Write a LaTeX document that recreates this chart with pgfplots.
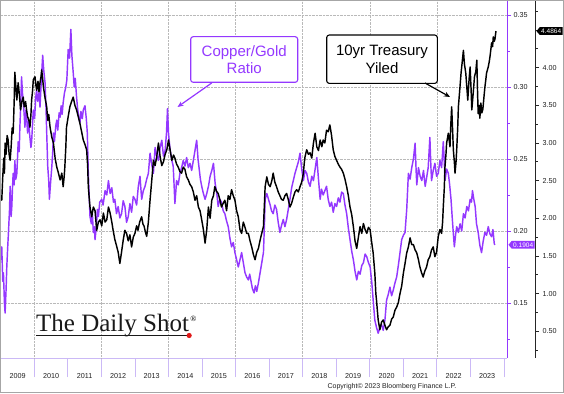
\documentclass[border=0pt]{standalone}
\usepackage{fontspec}
\setmainfont{Liberation Sans}
\newfontfamily\logofont{Liberation Serif}
\usepackage{pgfplots}
\pgfplotsset{compat=1.18}
\usetikzlibrary{shapes.symbols,arrows.meta}
\definecolor{purp}{HTML}{9438FF}
\definecolor{lav}{HTML}{CBB9F6}
\definecolor{logored}{HTML}{E01818}
\definecolor{tickgray}{HTML}{222222}
\begin{document}
\begin{tikzpicture}[x=1pt,y=1pt]
\useasboundingbox (0,0) rectangle (564,393);
\fill[white] (0,0) rectangle (564,393);
% x axis ticks and year labels
\begin{axis}[
 at={(0.75pt,35pt)}, anchor=south west,
 scale only axis, width=506.25pt, height=357pt,
 xmin=2009, xmax=2024.089, ymin=0, ymax=1,
 axis x line*=bottom, axis y line=none,
 x axis line style={lav, line width=0.9pt, -},
 xtick={2009.5,2010.5,2011.5,2012.5,2013.5,2014.5,2015.5,2016.5,2017.5,2018.5,2019.5,2020.5,2021.5,2022.5,2023.5},
 xticklabels={2009,2010,2011,2012,2013,2014,2015,2016,2017,2018,2019,2020,2021,2022,2023},
 major x tick style={draw=none},
 minor xtick={2010,2011,...,2024},
 minor tick length=19pt, tick align=outside,
 minor x tick style={lav, line width=0.9pt},
 xticklabel style={font=\fontsize{7.2}{8}\selectfont, text=tickgray, yshift=-8pt},
 /pgf/number format/assume math mode=true,
]
\end{axis}
% copper/gold ratio
\begin{axis}[
 at={(0.75pt,35pt)}, anchor=south west,
 scale only axis, width=506.25pt, height=357pt,
 xmin=2009, xmax=2024.089, ymin=0.1118, ymax=0.3597,
 clip mode=individual,
 axis x line*=bottom, axis y line*=right,
 x axis line style={draw=none},
 y axis line style={purp, line width=0.9pt, -},
 xtick={2010,2012,...,2022}, xticklabels={},
 major x tick style={draw=none},
 xmajorgrids, ymajorgrids,
 major grid style={densely dotted, gray!55, line width=0.6pt},
 ytick={0.15,0.20,0.25,0.30,0.35},
 minor ytick={0.125,0.175,0.225,0.275,0.325},
 tick align=outside, major tick length=4pt, minor tick length=2.5pt,
 y tick style={purp, line width=0.8pt},
 yticklabel style={font=\fontsize{7.2}{8}\selectfont, text=tickgray, xshift=-1pt, /pgf/number format/.cd, fixed, fixed zerofill, precision=2, assume math mode=true},
]
\addplot[purp, line width=1.45pt, line join=round] coordinates {
(2009.01,0.180)(2009.03,0.189)(2009.06,0.165)(2009.08,0.171)(2009.11,0.150)(2009.13,0.143)(2009.16,0.160)(2009.18,0.175)(2009.21,0.190)(2009.23,0.199)(2009.26,0.214)(2009.28,0.231)(2009.31,0.210)(2009.33,0.217)(2009.35,0.230)(2009.37,0.240)(2009.40,0.232)(2009.42,0.249)(2009.45,0.236)(2009.48,0.240)(2009.52,0.262)(2009.55,0.255)(2009.57,0.272)(2009.60,0.290)(2009.62,0.307)(2009.65,0.295)(2009.67,0.291)(2009.70,0.280)(2009.72,0.272)(2009.75,0.284)(2009.77,0.280)(2009.80,0.268)(2009.83,0.276)(2009.87,0.265)(2009.90,0.258)(2009.92,0.262)(2009.95,0.275)(2009.97,0.284)(2010.01,0.278)(2010.04,0.292)(2010.07,0.298)(2010.10,0.290)(2010.14,0.296)(2010.17,0.286)(2010.21,0.305)(2010.25,0.322)(2010.28,0.312)(2010.32,0.303)(2010.35,0.285)(2010.37,0.268)(2010.40,0.245)(2010.43,0.235)(2010.45,0.222)(2010.48,0.232)(2010.52,0.244)(2010.55,0.255)(2010.57,0.268)(2010.60,0.262)(2010.64,0.273)(2010.67,0.277)(2010.70,0.270)(2010.74,0.282)(2010.77,0.279)(2010.80,0.287)(2010.83,0.281)(2010.86,0.289)(2010.90,0.296)(2010.94,0.300)(2010.97,0.305)(2011.01,0.326)(2011.05,0.320)(2011.09,0.340)(2011.12,0.322)(2011.16,0.310)(2011.19,0.300)(2011.22,0.306)(2011.26,0.293)(2011.29,0.285)(2011.32,0.280)(2011.36,0.275)(2011.39,0.283)(2011.43,0.278)(2011.46,0.284)(2011.51,0.287)(2011.55,0.278)(2011.58,0.268)(2011.61,0.240)(2011.64,0.222)(2011.66,0.210)(2011.70,0.205)(2011.73,0.212)(2011.76,0.199)(2011.79,0.203)(2011.81,0.194)(2011.85,0.203)(2011.88,0.215)(2011.91,0.210)(2011.95,0.220)(2012.01,0.222)(2012.05,0.218)(2012.11,0.228)(2012.16,0.225)(2012.21,0.235)(2012.26,0.226)(2012.31,0.230)(2012.36,0.220)(2012.40,0.222)(2012.45,0.212)(2012.50,0.217)(2012.55,0.209)(2012.60,0.212)(2012.65,0.221)(2012.70,0.217)(2012.75,0.206)(2012.80,0.210)(2012.85,0.219)(2012.90,0.213)(2012.95,0.224)(2013.00,0.222)(2013.05,0.218)(2013.10,0.231)(2013.15,0.238)(2013.20,0.222)(2013.25,0.228)(2013.30,0.231)(2013.35,0.236)(2013.40,0.240)(2013.45,0.254)(2013.50,0.246)(2013.55,0.240)(2013.60,0.258)(2013.65,0.252)(2013.70,0.249)(2013.75,0.258)(2013.80,0.263)(2013.85,0.252)(2013.90,0.256)(2013.94,0.268)(2013.97,0.285)(2014.00,0.268)(2014.04,0.258)(2014.09,0.250)(2014.14,0.245)(2014.17,0.230)(2014.19,0.219)(2014.22,0.228)(2014.24,0.235)(2014.29,0.232)(2014.34,0.240)(2014.39,0.244)(2014.44,0.249)(2014.49,0.245)(2014.54,0.251)(2014.59,0.244)(2014.64,0.247)(2014.69,0.242)(2014.74,0.249)(2014.79,0.256)(2014.84,0.263)(2014.88,0.250)(2014.91,0.244)(2014.95,0.236)(2014.99,0.231)(2015.04,0.226)(2015.09,0.222)(2015.14,0.226)(2015.19,0.231)(2015.24,0.238)(2015.29,0.242)(2015.34,0.247)(2015.39,0.233)(2015.44,0.226)(2015.48,0.217)(2015.53,0.222)(2015.58,0.220)(2015.63,0.214)(2015.68,0.212)(2015.73,0.207)(2015.78,0.203)(2015.83,0.195)(2015.88,0.189)(2015.93,0.192)(2015.98,0.185)(2016.03,0.180)(2016.08,0.175)(2016.13,0.180)(2016.18,0.185)(2016.23,0.178)(2016.28,0.171)(2016.33,0.168)(2016.38,0.166)(2016.42,0.170)(2016.46,0.165)(2016.50,0.160)(2016.55,0.157)(2016.59,0.162)(2016.63,0.158)(2016.68,0.164)(2016.73,0.171)(2016.78,0.178)(2016.83,0.185)(2016.86,0.205)(2016.88,0.222)(2016.93,0.226)(2016.98,0.222)(2017.03,0.218)(2017.07,0.214)(2017.12,0.212)(2017.17,0.218)(2017.22,0.215)(2017.27,0.206)(2017.32,0.199)(2017.37,0.204)(2017.42,0.208)(2017.47,0.203)(2017.52,0.208)(2017.57,0.215)(2017.62,0.222)(2017.67,0.230)(2017.72,0.235)(2017.77,0.240)(2017.82,0.244)(2017.87,0.248)(2017.92,0.254)(2017.97,0.243)(2018.02,0.235)(2018.07,0.242)(2018.12,0.240)(2018.17,0.234)(2018.22,0.231)(2018.27,0.238)(2018.32,0.235)(2018.37,0.243)(2018.42,0.251)(2018.47,0.236)(2018.52,0.222)(2018.56,0.229)(2018.61,0.225)(2018.66,0.228)(2018.71,0.231)(2018.76,0.222)(2018.81,0.217)(2018.86,0.220)(2018.91,0.213)(2018.96,0.219)(2019.01,0.217)(2019.06,0.223)(2019.11,0.220)(2019.16,0.227)(2019.21,0.226)(2019.26,0.218)(2019.31,0.212)(2019.36,0.202)(2019.41,0.194)(2019.46,0.186)(2019.51,0.180)(2019.56,0.172)(2019.61,0.166)(2019.66,0.172)(2019.71,0.170)(2019.76,0.176)(2019.81,0.178)(2019.86,0.184)(2019.91,0.182)(2019.96,0.178)(2020.01,0.175)(2020.06,0.164)(2020.10,0.152)(2020.15,0.138)(2020.20,0.133)(2020.25,0.129)(2020.30,0.133)(2020.35,0.135)(2020.40,0.131)(2020.45,0.138)(2020.50,0.152)(2020.55,0.156)(2020.60,0.161)(2020.65,0.155)(2020.70,0.159)(2020.75,0.164)(2020.80,0.168)(2020.85,0.176)(2020.90,0.185)(2020.95,0.194)(2021.00,0.197)(2021.05,0.199)(2021.10,0.215)(2021.15,0.240)(2021.20,0.236)(2021.25,0.244)(2021.30,0.250)(2021.35,0.261)(2021.38,0.242)(2021.40,0.232)(2021.45,0.244)(2021.50,0.238)(2021.55,0.235)(2021.60,0.242)(2021.65,0.231)(2021.70,0.238)(2021.74,0.244)(2021.79,0.265)(2021.82,0.245)(2021.84,0.235)(2021.89,0.242)(2021.94,0.247)(2021.99,0.238)(2022.04,0.240)(2022.09,0.249)(2022.14,0.244)(2022.19,0.262)(2022.22,0.248)(2022.24,0.235)(2022.29,0.243)(2022.34,0.240)(2022.38,0.232)(2022.42,0.222)(2022.46,0.208)(2022.49,0.198)(2022.52,0.189)(2022.56,0.198)(2022.59,0.203)(2022.64,0.199)(2022.69,0.205)(2022.74,0.200)(2022.79,0.212)(2022.84,0.209)(2022.89,0.217)(2022.94,0.214)(2022.99,0.222)(2023.03,0.220)(2023.06,0.228)(2023.10,0.222)(2023.14,0.217)(2023.18,0.205)(2023.23,0.199)(2023.28,0.190)(2023.33,0.185)(2023.38,0.193)(2023.43,0.199)(2023.48,0.197)(2023.53,0.203)(2023.58,0.198)(2023.63,0.196)(2023.67,0.201)(2023.71,0.191)(2023.73,0.1904)
};
\node[signal, signal to=west, signal pointer angle=100, fill=purp, text=white, font=\fontsize{6.5}{7}\selectfont, inner xsep=1.5pt, inner ysep=1.6pt, anchor=west] at ([xshift=1.2pt]axis cs:2024.089,0.1904) {0.1904};
\end{axis}
% 10yr treasury yield
\begin{axis}[
 at={(0.75pt,35pt)}, anchor=south west,
 scale only axis, width=534.25pt, height=357pt,
 xmin=2009, xmax=2024.924, ymin=0.1447, ymax=4.886,
 clip mode=individual,
 axis x line=none, axis y line*=right,
 y axis line style={black!85, line width=0.9pt, -},
 ytick={0.5,1.0,1.5,2.0,2.5,3.0,3.5,4.0},
 minor ytick={0.25,0.75,1.25,1.75,2.25,2.75,3.25,3.75,4.25,4.5,4.75},
 tick align=outside, major tick length=4pt, minor tick length=2.5pt,
 y tick style={black!85, line width=0.8pt},
 yticklabel style={font=\fontsize{7.2}{8}\selectfont, text=tickgray, /pgf/number format/.cd, fixed, fixed zerofill, precision=2, assume math mode=true},
]
\addplot[black, line width=1.45pt, line join=round] coordinates {
(2009.01,2.30)(2009.03,2.24)(2009.06,2.55)(2009.09,2.80)(2009.11,2.60)(2009.13,3.00)(2009.16,2.85)(2009.19,3.10)(2009.22,3.04)(2009.25,2.85)(2009.28,2.77)(2009.31,2.95)(2009.34,3.20)(2009.37,3.13)(2009.40,3.55)(2009.42,3.94)(2009.45,3.75)(2009.48,3.57)(2009.50,3.70)(2009.52,3.80)(2009.56,3.62)(2009.59,3.44)(2009.63,3.55)(2009.67,3.61)(2009.70,3.48)(2009.74,3.55)(2009.77,3.44)(2009.80,3.35)(2009.84,3.30)(2009.87,3.21)(2009.90,3.38)(2009.92,3.57)(2009.95,3.70)(2009.97,3.84)(2010.02,3.88)(2010.05,3.76)(2010.07,3.70)(2010.11,3.82)(2010.14,3.68)(2010.17,3.80)(2010.20,3.88)(2010.22,3.97)(2010.25,3.85)(2010.27,3.75)(2010.32,3.60)(2010.37,3.48)(2010.40,3.30)(2010.43,3.38)(2010.47,3.21)(2010.52,3.08)(2010.57,3.00)(2010.62,2.80)(2010.67,2.68)(2010.72,2.60)(2010.77,2.51)(2010.82,2.60)(2010.86,2.42)(2010.89,2.55)(2010.91,2.68)(2010.94,2.95)(2010.96,3.21)(2011.01,3.35)(2011.06,3.48)(2011.11,3.55)(2011.16,3.61)(2011.21,3.50)(2011.26,3.44)(2011.31,3.35)(2011.36,3.26)(2011.41,3.15)(2011.46,3.04)(2011.51,2.98)(2011.56,2.91)(2011.59,2.70)(2011.61,2.42)(2011.64,2.25)(2011.66,2.15)(2011.71,2.02)(2011.76,2.15)(2011.81,2.10)(2011.86,1.84)(2011.91,1.95)(2011.96,1.98)(2012.01,1.90)(2012.06,2.07)(2012.11,1.95)(2012.16,1.98)(2012.21,2.15)(2012.26,2.07)(2012.31,1.95)(2012.35,1.84)(2012.40,1.72)(2012.46,1.62)(2012.50,1.55)(2012.55,1.40)(2012.60,1.55)(2012.65,1.71)(2012.70,1.84)(2012.75,1.80)(2012.80,1.70)(2012.85,1.78)(2012.90,1.62)(2012.95,1.75)(2013.00,1.80)(2013.05,1.90)(2013.09,1.84)(2013.14,1.95)(2013.20,2.02)(2013.24,1.92)(2013.27,1.90)(2013.31,1.82)(2013.35,1.76)(2013.40,1.95)(2013.45,2.24)(2013.50,2.50)(2013.55,2.77)(2013.60,2.70)(2013.65,2.82)(2013.70,3.00)(2013.75,2.82)(2013.80,2.70)(2013.85,2.75)(2013.90,2.85)(2013.95,2.91)(2014.00,3.04)(2014.05,2.90)(2014.10,2.77)(2014.15,2.84)(2014.19,2.80)(2014.24,2.72)(2014.29,2.68)(2014.34,2.62)(2014.39,2.60)(2014.44,2.68)(2014.49,2.65)(2014.54,2.55)(2014.59,2.51)(2014.64,2.45)(2014.69,2.42)(2014.74,2.35)(2014.79,2.24)(2014.84,2.30)(2014.89,2.15)(2014.94,2.10)(2014.99,1.98)(2015.04,1.85)(2015.09,1.67)(2015.14,1.85)(2015.19,2.15)(2015.24,2.00)(2015.29,2.24)(2015.34,2.30)(2015.38,2.42)(2015.43,2.36)(2015.48,2.33)(2015.53,2.25)(2015.58,2.15)(2015.63,2.20)(2015.68,2.24)(2015.73,2.10)(2015.78,2.30)(2015.83,2.25)(2015.88,2.38)(2015.93,2.30)(2015.98,2.24)(2016.03,2.10)(2016.08,2.02)(2016.13,1.85)(2016.18,1.80)(2016.23,1.95)(2016.28,1.88)(2016.33,1.80)(2016.38,1.80)(2016.43,1.70)(2016.48,1.62)(2016.53,1.52)(2016.58,1.45)(2016.63,1.55)(2016.68,1.60)(2016.73,1.71)(2016.78,1.80)(2016.83,1.89)(2016.86,2.20)(2016.88,2.42)(2016.93,2.55)(2016.98,2.45)(2017.03,2.42)(2017.08,2.50)(2017.12,2.60)(2017.17,2.48)(2017.22,2.42)(2017.27,2.35)(2017.32,2.30)(2017.37,2.25)(2017.42,2.24)(2017.47,2.30)(2017.52,2.33)(2017.57,2.25)(2017.62,2.15)(2017.67,2.20)(2017.72,2.28)(2017.77,2.35)(2017.82,2.38)(2017.87,2.35)(2017.92,2.42)(2017.97,2.48)(2018.02,2.60)(2018.05,2.75)(2018.07,2.82)(2018.12,2.91)(2018.17,2.85)(2018.22,2.87)(2018.27,2.80)(2018.32,3.00)(2018.37,3.13)(2018.42,2.95)(2018.47,2.90)(2018.52,3.04)(2018.57,2.95)(2018.61,3.04)(2018.66,3.00)(2018.71,3.17)(2018.76,3.15)(2018.81,3.24)(2018.86,3.10)(2018.91,2.91)(2018.96,2.82)(2019.01,2.77)(2019.06,2.72)(2019.11,2.68)(2019.16,2.65)(2019.21,2.60)(2019.26,2.52)(2019.31,2.42)(2019.36,2.30)(2019.41,2.15)(2019.46,2.05)(2019.51,1.89)(2019.56,1.70)(2019.61,1.60)(2019.66,1.75)(2019.71,1.89)(2019.76,1.80)(2019.81,1.93)(2019.86,1.85)(2019.91,1.80)(2019.96,1.88)(2020.01,1.85)(2020.05,1.70)(2020.10,1.54)(2020.15,1.27)(2020.18,1.00)(2020.20,0.91)(2020.23,0.75)(2020.25,0.65)(2020.30,0.52)(2020.35,0.62)(2020.40,0.65)(2020.45,0.58)(2020.50,0.52)(2020.55,0.56)(2020.60,0.58)(2020.65,0.66)(2020.70,0.69)(2020.75,0.78)(2020.80,0.82)(2020.85,0.88)(2020.90,1.00)(2020.95,1.10)(2021.00,1.27)(2021.05,1.40)(2021.10,1.54)(2021.15,1.62)(2021.20,1.74)(2021.25,1.65)(2021.30,1.65)(2021.35,1.58)(2021.40,1.54)(2021.45,1.45)(2021.49,1.36)(2021.54,1.28)(2021.59,1.22)(2021.64,1.30)(2021.69,1.35)(2021.74,1.45)(2021.79,1.49)(2021.84,1.58)(2021.89,1.62)(2021.94,1.49)(2021.99,1.55)(2022.04,1.76)(2022.09,1.85)(2022.14,1.80)(2022.17,1.95)(2022.19,2.15)(2022.22,2.40)(2022.24,2.68)(2022.27,2.85)(2022.29,3.00)(2022.34,3.13)(2022.39,2.95)(2022.41,3.20)(2022.44,3.48)(2022.47,3.15)(2022.49,2.91)(2022.52,2.75)(2022.54,2.60)(2022.57,2.75)(2022.59,2.91)(2022.62,3.20)(2022.64,3.48)(2022.68,3.70)(2022.72,3.93)(2022.76,4.10)(2022.79,4.23)(2022.82,4.05)(2022.86,3.93)(2022.89,3.75)(2022.92,3.57)(2022.96,3.85)(2022.99,4.01)(2023.02,3.70)(2023.04,3.44)(2023.08,3.65)(2023.12,3.88)(2023.16,3.95)(2023.19,4.10)(2023.21,3.70)(2023.23,3.39)(2023.26,3.50)(2023.28,3.33)(2023.31,3.53)(2023.34,3.40)(2023.37,3.45)(2023.40,3.60)(2023.43,3.74)(2023.46,3.85)(2023.48,3.93)(2023.53,4.01)(2023.56,4.08)(2023.58,4.14)(2023.61,4.25)(2023.63,4.33)(2023.66,4.28)(2023.68,4.41)(2023.71,4.35)(2023.73,4.38)(2023.76,4.4864)
};
\node[signal, signal to=west, signal pointer angle=100, fill=black, text=white, font=\fontsize{6.5}{7}\selectfont, inner xsep=1.5pt, inner ysep=1.6pt, anchor=west] at ([xshift=1.2pt]axis cs:2024.924,4.4864) {4.4864};
\end{axis}
% annotations
\node[draw=purp, line width=1.1pt, rounded corners=2.5pt, fill=white, text=purp, align=center,
 minimum width=107pt, minimum height=45.6pt, inner sep=0pt, font=\fontsize{15}{17.3}\selectfont]
 (cg) at (244.2,333.5) {Copper/Gold\\Ratio};
\draw[purp, line width=1.2pt, -{Stealth[length=6pt,width=5pt]}] (211.7,310) -- (177.5,286);
\node[draw=black, line width=1.1pt, rounded corners=2.5pt, fill=white, text=black, align=center,
 minimum width=110.6pt, minimum height=48.3pt, inner sep=0pt, font=\fontsize{15}{17.3}\selectfont]
 (ty) at (382,333.8) {10yr Treasury\\Yiled};
\draw[black, line width=1.2pt, -{Stealth[length=6pt,width=5pt]}] (425,310) -- (450,296);
% logo
\node[anchor=base west, inner sep=0pt, font=\logofont\fontsize{25}{26}\selectfont, text=black!90] (logo) at (36,61) {The Daily Shot};
\node[anchor=base west, inner sep=0pt, font=\logofont\fontsize{8}{9}\selectfont] at ([xshift=1pt,yshift=10pt]logo.base east) {®};
\draw[black!90, line width=1.3pt] ([yshift=-3.5pt]logo.base west) -- ([yshift=-3.5pt]logo.base east);
\fill[logored] ([yshift=-3.5pt]logo.base east) circle (2.6pt);
% copyright
\node[font=\fontsize{7}{8}\selectfont, text=tickgray] at (392,6.5) {Copyright© 2023 Bloomberg Finance L.P.};
% frame
\draw[gray!70, line width=0.8pt] (0.4,0.4) rectangle (563.6,392.6);
\end{tikzpicture}
\end{document}
